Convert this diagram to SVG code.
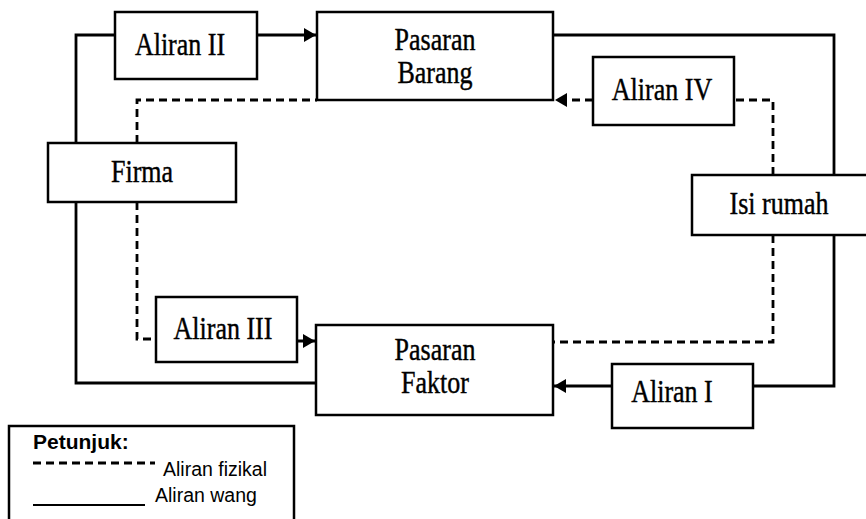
<svg xmlns="http://www.w3.org/2000/svg" width="866" height="519" viewBox="0 0 866 519">
<style>
.box{fill:#fff;stroke:#000;stroke-width:2.5}
.lbl{font-family:"Liberation Serif","Times New Roman",serif;font-size:26px;fill:#000;stroke:#000;stroke-width:0.35;text-anchor:middle}
.solid{fill:none;stroke:#000;stroke-width:2.8}
.dash{fill:none;stroke:#000;stroke-width:2.8;stroke-dasharray:8 5}
.leg{font-family:"Liberation Sans",Arial,sans-serif;fill:#000}
</style>
<defs>
<marker id="arr" markerUnits="userSpaceOnUse" markerWidth="13" markerHeight="14" refX="12" refY="7" orient="auto">
<path d="M0,0 L12,7 L0,14 z" fill="#000"/>
</marker>
</defs>
<rect width="866" height="519" fill="#fff"/>
<g id="connectors">
<path class="solid" d="M257,35 H316" marker-end="url(#arr)"/>
<path class="solid" d="M115,35 H76 V143"/>
<path class="solid" d="M76,202 V383 H316"/>
<path class="solid" d="M553,35 H834 V175"/>
<path class="solid" d="M834,235 V386 H753"/>
<path class="solid" d="M612,386 H554" marker-end="url(#arr)"/>
<path class="dash" d="M137,143 V100 H317"/>
<path class="dash" d="M773,175 V100 H734"/>
<path class="dash" d="M593,100 H555" marker-end="url(#arr)"/>
<path class="dash" d="M137,202 V339 H156"/>
<path class="dash" d="M297,341 H315" marker-end="url(#arr)"/>
<path class="dash" d="M773,235 V342 H553"/>
</g>
<g id="aliran2"><rect class="box" x="115" y="12" width="142" height="67"/><text class="lbl" transform="translate(180 55) scale(1 1.2)">Aliran II</text></g>
<g id="pasaran-barang"><rect class="box" x="317" y="12" width="236" height="88"/><text class="lbl" transform="translate(435 50) scale(1 1.2)">Pasaran</text><text class="lbl" transform="translate(435 83) scale(1 1.2)">Barang</text></g>
<g id="aliran4"><rect class="box" x="593" y="57" width="141" height="68"/><text class="lbl" transform="translate(662 100) scale(1 1.2)">Aliran IV</text></g>
<g id="firma"><rect class="box" x="48" y="143" width="188" height="59"/><text class="lbl" transform="translate(142 182) scale(1 1.2)">Firma</text></g>
<g id="isi-rumah"><rect class="box" x="692" y="175" width="185" height="60"/><text class="lbl" transform="translate(779 214) scale(1 1.2)" font-size="28">Isi rumah</text></g>
<g id="aliran3"><rect class="box" x="156" y="297" width="141" height="65"/><text class="lbl" transform="translate(223 339) scale(1 1.2)">Aliran III</text></g>
<g id="pasaran-faktor"><rect class="box" x="316" y="325" width="237" height="90"/><text class="lbl" transform="translate(435 360) scale(1 1.2)">Pasaran</text><text class="lbl" transform="translate(435 393) scale(1 1.2)">Faktor</text></g>
<g id="aliran1"><rect class="box" x="612" y="364" width="141" height="64"/><text class="lbl" transform="translate(672 402) scale(1 1.2)">Aliran I</text></g>
<g id="legend">
<rect x="9" y="426" width="285" height="110" fill="#fff" stroke="#000" stroke-width="2.5"/>
<text class="leg" x="33" y="449" font-size="21" font-weight="bold">Petunjuk:</text>
<path class="dash" d="M33,463 H155" stroke-dasharray="9 5"/>
<text class="leg" x="163" y="476" font-size="19.5">Aliran fizikal</text>
<path d="M33,505 H145" stroke="#000" stroke-width="2"/>
<text class="leg" x="155" y="502" font-size="19.5">Aliran wang</text>
</g>
</svg>
